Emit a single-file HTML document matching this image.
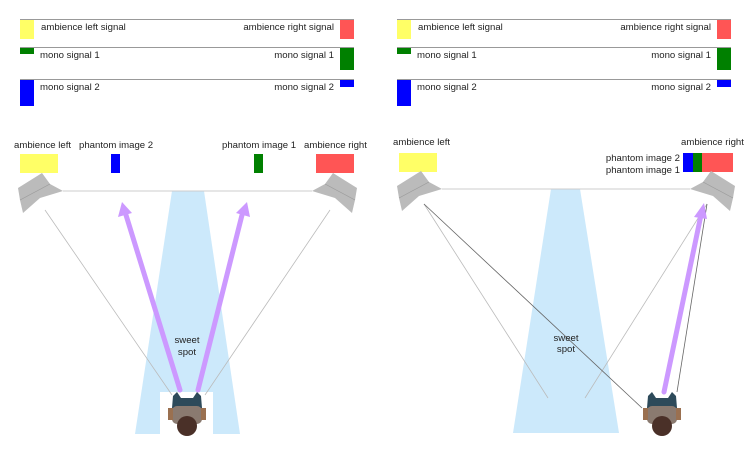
<!DOCTYPE html><html><head><style>body{margin:0;background:#fff}svg{display:block}text{font-family:"Liberation Sans",sans-serif;font-size:9.6px;fill:#222}</style></head><body>
<svg width="750" height="464" viewBox="0 0 750 464">
<defs>
<g id="person">
<path d="M-14,-26 L-10,-30 L-6,-24 L6,-24 L10,-30 L14,-26 L15,-14 L-15,-14 z" fill="#2d4a5a"/>
<rect x="-15" y="-16" width="30" height="18" rx="5" fill="#8a7a70"/>
<rect x="-19" y="-14" width="5" height="12" fill="#9a7050"/><rect x="14" y="-14" width="5" height="12" fill="#9a7050"/>
<circle cx="0" cy="4" r="10" fill="#4a3028"/>
</g>
<g id="spk"><polygon points="18,188 42,173 50,184 63,191 40,198 23,213 20,200" fill="#bbb"/><line x1="20" y1="200" x2="50" y2="184" stroke="#999" stroke-width="0.6"/></g>
</defs>
<g stroke="#999" stroke-width="1"><line x1="20" y1="19.5" x2="354" y2="19.5"/><line x1="20" y1="47.5" x2="354" y2="47.5"/><line x1="20" y1="79.5" x2="354" y2="79.5"/></g>
<rect x="20" y="20" width="14" height="19" fill="#ffff66"/><rect x="340" y="20" width="14" height="19" fill="#ff5555"/>
<rect x="20" y="48" width="14" height="6" fill="#008000"/><rect x="340" y="48" width="14" height="22" fill="#008000"/>
<rect x="20" y="80" width="14" height="26" fill="#0000ff"/><rect x="340" y="80" width="14" height="7" fill="#0000ff"/>
<text x="41" y="30">ambience left signal</text><text x="334" y="30" text-anchor="end">ambience right signal</text>
<text x="40" y="58">mono signal 1</text><text x="334" y="58" text-anchor="end">mono signal 1</text>
<text x="40" y="90">mono signal 2</text><text x="334" y="90" text-anchor="end">mono signal 2</text>
<g transform="translate(377,0)">
<g stroke="#999" stroke-width="1"><line x1="20" y1="19.5" x2="354" y2="19.5"/><line x1="20" y1="47.5" x2="354" y2="47.5"/><line x1="20" y1="79.5" x2="354" y2="79.5"/></g>
<rect x="20" y="20" width="14" height="19" fill="#ffff66"/><rect x="340" y="20" width="14" height="19" fill="#ff5555"/>
<rect x="20" y="48" width="14" height="6" fill="#008000"/><rect x="340" y="48" width="14" height="22" fill="#008000"/>
<rect x="20" y="80" width="14" height="26" fill="#0000ff"/><rect x="340" y="80" width="14" height="7" fill="#0000ff"/>
<text x="41" y="30">ambience left signal</text><text x="334" y="30" text-anchor="end">ambience right signal</text>
<text x="40" y="58">mono signal 1</text><text x="334" y="58" text-anchor="end">mono signal 1</text>
<text x="40" y="90">mono signal 2</text><text x="334" y="90" text-anchor="end">mono signal 2</text>
</g>
<text x="14" y="148">ambience left</text><text x="79" y="148">phantom image 2</text><text x="222" y="148">phantom image 1</text><text x="304" y="148">ambience right</text>
<rect x="20" y="154" width="38" height="19" fill="#ffff66"/><rect x="111" y="154" width="9" height="19" fill="#0000ff"/><rect x="254" y="154" width="9" height="19" fill="#008000"/><rect x="316" y="154" width="38" height="19" fill="#ff5555"/>
<polygon points="172,191 204,191 240,434 135,434" fill="#cce9fb"/>
<rect x="160" y="392" width="53" height="42" fill="#fff"/>
<line x1="63" y1="191" x2="312" y2="191" stroke="#ccc"/>
<g stroke="#bbb" stroke-width="0.8"><line x1="45" y1="210" x2="172" y2="395"/><line x1="330" y1="210" x2="205" y2="395"/></g>
<use href="#spk"/><use href="#spk" transform="translate(375,0) scale(-1,1)"/>
<text x="187" y="343" text-anchor="middle">sweet</text><text x="187" y="355" text-anchor="middle">spot</text>
<g stroke="#cc99ff" stroke-width="5" stroke-linecap="round"><line x1="180" y1="390" x2="126" y2="215"/><line x1="198" y1="390" x2="242" y2="215"/></g>
<polygon points="122,202 118,217 132,213" fill="#cc99ff"/><polygon points="247,202 236,213 250,217" fill="#cc99ff"/>
<use href="#person" x="187" y="422"/>
<text x="393" y="145">ambience left</text><text x="681" y="145">ambience right</text>
<text x="680" y="161" text-anchor="end">phantom image 2</text><text x="680" y="173" text-anchor="end">phantom image 1</text>
<rect x="399" y="153" width="38" height="19" fill="#ffff66"/><rect x="683" y="153" width="10" height="19" fill="#0000ff"/><rect x="693" y="153" width="9" height="19" fill="#008000"/><rect x="702" y="153" width="31" height="19" fill="#ff5555"/>
<polygon points="551,189 580,189 619,433 513,433" fill="#cce9fb"/>
<line x1="442" y1="189" x2="690" y2="189" stroke="#ccc"/>
<g stroke="#bbb" stroke-width="0.8"><line x1="424" y1="204" x2="548" y2="398"/><line x1="707" y1="204" x2="585" y2="398"/></g>
<g stroke="#666" stroke-width="0.8"><line x1="424" y1="204" x2="642" y2="408"/><line x1="707" y1="204" x2="677" y2="392"/></g>
<use href="#spk" transform="translate(379,-2)"/><use href="#spk" transform="translate(753,-2) scale(-1,1)"/>
<text x="566" y="341" text-anchor="middle">sweet</text><text x="566" y="352" text-anchor="middle">spot</text>
<line x1="664" y1="392" x2="701" y2="215" stroke="#cc99ff" stroke-width="5" stroke-linecap="round"/>
<polygon points="704,203 694,217 707,219" fill="#cc99ff"/>
<use href="#person" x="662" y="422"/>
</svg></body></html>
